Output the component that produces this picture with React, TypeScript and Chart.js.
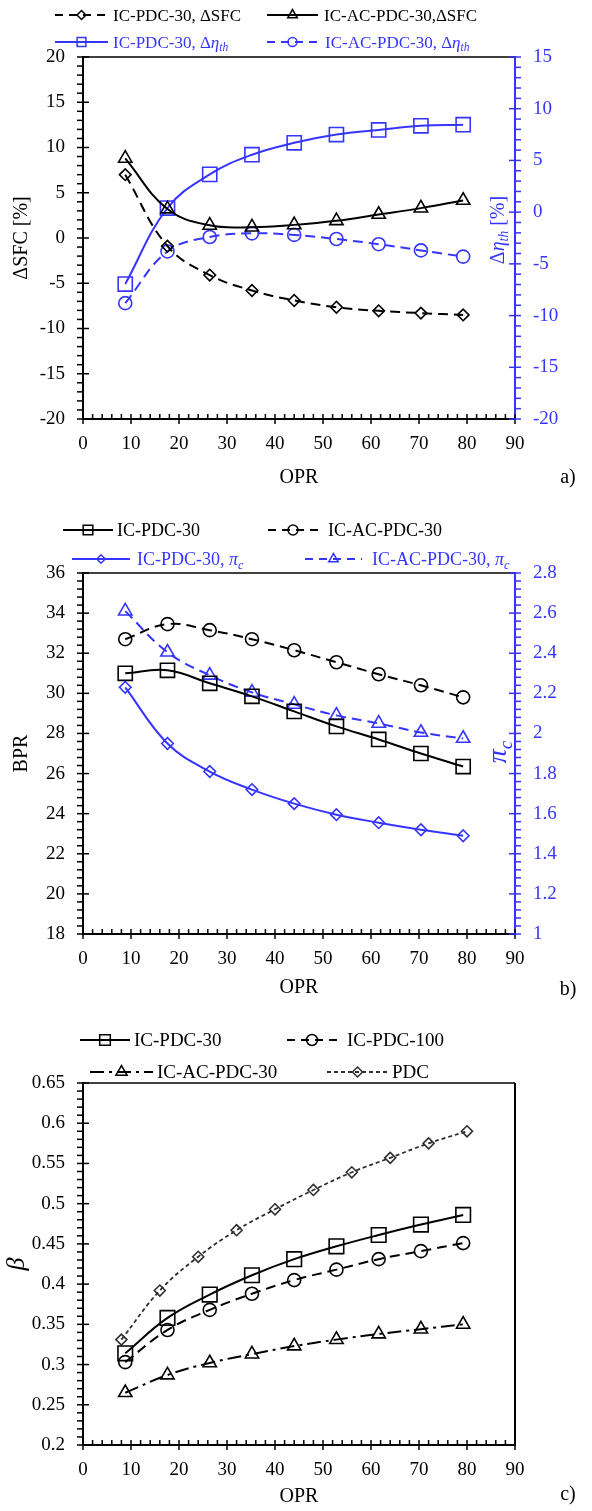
import React, { useEffect, useRef } from 'react';
import { Chart, registerables } from 'chart.js';

Chart.register(...registerables);

const FONT = '"Liberation Serif", "Times New Roman", Times, serif';
const BLUE = '#3535ff';
const BLACK = '#000000';
const GRAY = '#2e2e2e';

// ---------- shared ----------
const OPR = [8.8, 17.6, 26.4, 35.2, 44.0, 52.8, 61.6, 70.4, 79.2];
const OPR_PDC = [8, 16, 24, 32, 40, 48, 56, 64, 72, 80];
const X_TICKS = [0, 10, 20, 30, 40, 50, 60, 70, 80, 90];

// ---------- panel a ----------
const A_DSFC_IC_PDC_30 = [7.0, -0.9, -4.1, -5.8, -6.9, -7.65, -8.05, -8.3, -8.5];
const A_DSFC_IC_AC_PDC_30 = [8.8, 3.2, 1.4, 1.2, 1.45, 1.9, 2.6, 3.3, 4.15];
const A_DETA_IC_PDC_30 = [-6.95, 0.4, 3.65, 5.55, 6.7, 7.5, 7.95, 8.35, 8.45];
const A_DETA_IC_AC_PDC_30 = [-8.8, -3.8, -2.4, -2.05, -2.2, -2.6, -3.1, -3.7, -4.3];
const A_LEFT_TICKS = [-20, -15, -10, -5, 0, 5, 10, 15, 20];
const A_RIGHT_TICKS = [-20, -15, -10, -5, 0, 5, 10, 15];

// ---------- panel b ----------
const B_BPR_IC_PDC_30 = [31.0, 31.15, 30.5, 29.85, 29.1, 28.35, 27.7, 27.0, 26.35];
const B_BPR_IC_AC_PDC_30 = [32.7, 33.45, 33.15, 32.7, 32.15, 31.55, 30.95, 30.4, 29.8];
const B_PI_IC_PDC_30 = [2.23, 1.95, 1.81, 1.72, 1.65, 1.595, 1.555, 1.52, 1.49];
const B_PI_IC_AC_PDC_30 = [2.61, 2.405, 2.29, 2.205, 2.145, 2.09, 2.05, 2.005, 1.975];
const B_LEFT_TICKS = [18, 20, 22, 24, 26, 28, 30, 32, 34, 36];
const B_RIGHT_TICKS = [1, 1.2, 1.4, 1.6, 1.8, 2, 2.2, 2.4, 2.6, 2.8];

// ---------- panel c ----------
const C_BETA_IC_PDC_30 = [0.314, 0.358, 0.387, 0.411, 0.431, 0.447, 0.461, 0.474, 0.486];
const C_BETA_IC_PDC_100 = [0.303, 0.343, 0.368, 0.388, 0.405, 0.418, 0.431, 0.441, 0.451];
const C_BETA_IC_AC_PDC_30 = [0.265, 0.287, 0.302, 0.313, 0.323, 0.331, 0.338, 0.344, 0.35];
const C_BETA_PDC = [0.331, 0.392, 0.434, 0.467, 0.493, 0.517, 0.539, 0.557, 0.575, 0.59];
const C_LEFT_TICKS = [0.2, 0.25, 0.3, 0.35, 0.4, 0.45, 0.5, 0.55, 0.6, 0.65];

// ---------- helpers ----------
type Seg = { t: string; it?: boolean; sub?: boolean };
type LegendItem = {
  x0: number; x1: number; tx: number; y: number; color: string; textColor?: string; dash: number[];
  lw: number; style: string; r: number; segs: Seg[]; size: number;
};
type TextItem = { x: number; y: number; segs: Seg[]; size: number; color: string; align: 'left' | 'center'; rot?: number };
type TickDef = { id: string; pos: 'bottom' | 'left' | 'right'; min: number; max: number; minor: number; per: number; color: string };
type Decor = { legend: LegendItem[]; texts: TextItem[]; ticks: TickDef[]; rightBorder?: boolean };

const fmt = (v: any) => String(parseFloat(Number(v).toFixed(3)));

function drawRich(ctx: CanvasRenderingContext2D, segs: Seg[], x: number, y: number, size: number, color: string, align: 'left' | 'center', rot = 0) {
  ctx.save();
  ctx.translate(x, y);
  if (rot) ctx.rotate(rot);
  ctx.fillStyle = color;
  ctx.textBaseline = 'alphabetic';
  ctx.textAlign = 'left';
  const fontFor = (s: Seg) => `${s.it ? 'italic ' : ''}${(s.sub ? 0.68 : 1) * size}px ${FONT}`;
  let w = 0;
  for (const s of segs) { ctx.font = fontFor(s); w += ctx.measureText(s.t).width; }
  let cx = align === 'center' ? -w / 2 : 0;
  const base = size * 0.33;
  for (const s of segs) {
    ctx.font = fontFor(s);
    ctx.fillText(s.t, cx, base + (s.sub ? size * 0.22 : 0));
    cx += ctx.measureText(s.t).width;
  }
  ctx.restore();
}

function drawMarker(ctx: CanvasRenderingContext2D, style: string, x: number, y: number, r: number, color: string, lw: number) {
  ctx.save();
  ctx.setLineDash([]);
  ctx.strokeStyle = color;
  ctx.lineWidth = lw;
  ctx.beginPath();
  if (style === 'rect') {
    const s = r * Math.SQRT1_2;
    ctx.rect(x - s, y - s, 2 * s, 2 * s);
  } else if (style === 'circle') {
    ctx.arc(x, y, r, 0, Math.PI * 2);
  } else if (style === 'triangle') {
    const a = (2 * Math.PI) / 3;
    ctx.moveTo(x, y - r);
    ctx.lineTo(x + Math.sin(a) * r, y - Math.cos(a) * r);
    ctx.lineTo(x + Math.sin(2 * a) * r, y - Math.cos(2 * a) * r);
    ctx.closePath();
  } else {
    ctx.moveTo(x - r, y);
    ctx.lineTo(x, y - r);
    ctx.lineTo(x + r, y);
    ctx.lineTo(x, y + r);
    ctx.closePath();
  }
  ctx.stroke();
  ctx.restore();
}

function makeDecor(d: Decor) {
  return {
    id: 'decor',
    afterDraw(chart: any) {
      const ctx = chart.ctx as CanvasRenderingContext2D;
      const ca = chart.chartArea;
      ctx.save();
      ctx.setLineDash([]);
      ctx.lineCap = 'butt';
      ctx.strokeStyle = BLACK;
      ctx.lineWidth = 1.5;
      ctx.beginPath();
      ctx.moveTo(ca.left, ca.top);
      ctx.lineTo(ca.right, ca.top);
      ctx.stroke();
      if (d.rightBorder) {
        ctx.lineWidth = 2;
        ctx.beginPath();
        ctx.moveTo(ca.right, ca.top);
        ctx.lineTo(ca.right, ca.bottom);
        ctx.stroke();
      }
      for (const t of d.ticks) {
        const sc = chart.scales[t.id];
        ctx.strokeStyle = t.color;
        ctx.lineWidth = 1.5;
        const n = Math.round((t.max - t.min) / t.minor);
        for (let i = 0; i <= n; i++) {
          const v = t.min + i * t.minor;
          const major = i % t.per === 0;
          const p = sc.getPixelForValue(v);
          ctx.beginPath();
          if (t.pos === 'bottom') {
            const b = ca.bottom;
            ctx.moveTo(p, b - 5);
            ctx.lineTo(p, major ? b + 5 : b);
          } else if (t.pos === 'left') {
            const l = ca.left;
            ctx.moveTo(l - 6, p);
            ctx.lineTo(major ? l + 6 : l, p);
          } else {
            const r = ca.right;
            ctx.moveTo(major ? r - 6 : r, p);
            ctx.lineTo(r + 6, p);
          }
          ctx.stroke();
        }
      }
      for (const it of d.legend) {
        ctx.strokeStyle = it.color;
        ctx.lineWidth = it.lw;
        ctx.setLineDash(it.dash);
        ctx.beginPath();
        ctx.moveTo(it.x0, it.y);
        ctx.lineTo(it.x1, it.y);
        ctx.stroke();
        ctx.setLineDash([]);
        drawMarker(ctx, it.style, (it.x0 + it.x1) / 2, it.y, it.r, it.color, 1.5);
        drawRich(ctx, it.segs, it.tx, it.y, it.size, it.textColor ?? it.color, 'left');
      }
      for (const t of d.texts) drawRich(ctx, t.segs, t.x, t.y, t.size, t.color, t.align, t.rot ?? 0);
      ctx.restore();
    },
  };
}

function pts(xs: number[], ys: number[]) {
  return xs.map((x, i) => ({ x, y: ys[i] }));
}

function ds(label: string, xs: number[], ys: number[], o: { axis: string; color: string; dash?: number[]; lw?: number; style: string; r: number }) {
  return {
    label,
    data: pts(xs, ys),
    yAxisID: o.axis,
    borderColor: o.color,
    borderWidth: o.lw ?? 2,
    borderDash: o.dash ?? [],
    tension: 0.4,
    fill: false,
    pointStyle: o.style,
    pointRadius: o.r,
    pointHoverRadius: o.r,
    pointBorderColor: o.color,
    pointBackgroundColor: 'rgba(0,0,0,0)',
    pointBorderWidth: 1.6,
  };
}

function xScale(h: number, titlePad: number) {
  return {
    type: 'linear',
    position: 'bottom',
    min: 0,
    max: 90,
    afterBuildTicks: (s: any) => { s.ticks = X_TICKS.map((value) => ({ value })); },
    afterFit: (s: any) => { s.height = h; },
    grid: { display: false, drawTicks: false },
    border: { display: true, color: BLACK, width: 2 },
    ticks: { color: BLACK, font: { family: FONT, size: 19 }, padding: 14, maxRotation: 0, autoSkip: false, callback: fmt },
    title: { display: true, text: 'OPR', color: BLACK, font: { family: FONT, size: 20 }, padding: { top: 0, bottom: titlePad } },
  };
}

function yScale(pos: 'left' | 'right', min: number, max: number, ticks: number[], color: string, width: number, title?: any) {
  return {
    type: 'linear',
    position: pos,
    min,
    max,
    afterBuildTicks: (s: any) => { s.ticks = ticks.map((value) => ({ value })); },
    afterFit: (s: any) => { s.width = width; },
    grid: { display: false, drawTicks: false },
    border: { display: true, color, width: 2 },
    ticks: { color, font: { family: FONT, size: 19 }, padding: 18, autoSkip: false, callback: fmt },
    title: title ?? { display: false },
  };
}

const BASE_OPTS = {
  responsive: false,
  animation: false,
  events: [],
  plugins: { legend: { display: false }, tooltip: { enabled: false } },
};

// ---------- chart configs ----------
function configA() {
  return {
    type: 'line',
    data: {
      datasets: [
        ds('IC-PDC-30, ΔSFC', OPR, A_DSFC_IC_PDC_30, { axis: 'y', color: BLACK, dash: [10, 6], style: 'rectRot', r: 5.8 }),
        ds('IC-AC-PDC-30, ΔSFC', OPR, A_DSFC_IC_AC_PDC_30, { axis: 'y', color: BLACK, style: 'triangle', r: 7.7 }),
        ds('IC-PDC-30, Δη_th', OPR, A_DETA_IC_PDC_30, { axis: 'y1', color: BLUE, style: 'rect', r: 10 }),
        ds('IC-AC-PDC-30, Δη_th', OPR, A_DETA_IC_AC_PDC_30, { axis: 'y1', color: BLUE, dash: [10, 6], style: 'circle', r: 6.5 }),
      ],
    },
    options: {
      ...BASE_OPTS,
      layout: { padding: { top: 57, left: 0, right: 0, bottom: 0 } },
      scales: {
        x: xScale(96, 25),
        y: yScale('left', -20, 20, A_LEFT_TICKS, BLACK, 83, {
          display: true, text: 'ΔSFC [%]', color: BLACK, font: { family: FONT, size: 20 }, padding: { top: 10, bottom: 0 },
        }),
        y1: yScale('right', -20, 15, A_RIGHT_TICKS, BLUE, 77),
      },
    },
    plugins: [
      makeDecor({
        ticks: [
          { id: 'x', pos: 'bottom', min: 0, max: 90, minor: 2, per: 5, color: BLACK },
          { id: 'y', pos: 'left', min: -20, max: 20, minor: 1, per: 5, color: BLACK },
          { id: 'y1', pos: 'right', min: -20, max: 15, minor: 1, per: 5, color: BLUE },
        ],
        legend: [
          { x0: 55, x1: 108, tx: 113, y: 15, color: BLACK, dash: [8, 6], lw: 2, style: 'rectRot', r: 4.5, size: 17, segs: [{ t: 'IC-PDC-30, ΔSFC' }] },
          { x0: 267, x1: 318, tx: 324, y: 15, color: BLACK, dash: [], lw: 2, style: 'triangle', r: 5.5, size: 17, segs: [{ t: 'IC-AC-PDC-30,ΔSFC' }] },
          { x0: 55, x1: 108, tx: 113, y: 42, color: BLUE, dash: [], lw: 2, style: 'rect', r: 6.2, size: 17, segs: [{ t: 'IC-PDC-30, Δ' }, { t: 'η', it: true }, { t: 'th', it: true, sub: true }] },
          { x0: 267, x1: 318, tx: 325, y: 42, color: BLUE, dash: [8, 6], lw: 2, style: 'circle', r: 4.5, size: 17, segs: [{ t: 'IC-AC-PDC-30, Δ' }, { t: 'η', it: true }, { t: 'th', it: true, sub: true }] },
        ],
        texts: [
          { x: 568, y: 476, segs: [{ t: 'a)' }], size: 20, color: BLACK, align: 'center' },
          { x: 497, y: 230, segs: [{ t: 'Δ' }, { t: 'η', it: true }, { t: 'th', it: true, sub: true }, { t: ' [%]' }], size: 20, color: BLUE, align: 'center', rot: -Math.PI / 2 },
        ],
      }),
    ],
  };
}

function configB() {
  return {
    type: 'line',
    data: {
      datasets: [
        ds('IC-PDC-30', OPR, B_BPR_IC_PDC_30, { axis: 'y', color: BLACK, style: 'rect', r: 10 }),
        ds('IC-AC-PDC-30', OPR, B_BPR_IC_AC_PDC_30, { axis: 'y', color: BLACK, dash: [10, 6], style: 'circle', r: 6.5 }),
        ds('IC-PDC-30, π_c', OPR, B_PI_IC_PDC_30, { axis: 'y1', color: BLUE, style: 'rectRot', r: 5.8 }),
        ds('IC-AC-PDC-30, π_c', OPR, B_PI_IC_AC_PDC_30, { axis: 'y1', color: BLUE, dash: [10, 6], style: 'triangle', r: 7.7 }),
      ],
    },
    options: {
      ...BASE_OPTS,
      layout: { padding: { top: 58, left: 0, right: 0, bottom: 0 } },
      scales: {
        x: xScale(91, 25),
        y: yScale('left', 18, 36, B_LEFT_TICKS, BLACK, 83, {
          display: true, text: 'BPR', color: BLACK, font: { family: FONT, size: 20 }, padding: { top: 10, bottom: 0 },
        }),
        y1: yScale('right', 1, 2.8, B_RIGHT_TICKS, BLUE, 77),
      },
    },
    plugins: [
      makeDecor({
        ticks: [
          { id: 'x', pos: 'bottom', min: 0, max: 90, minor: 2, per: 5, color: BLACK },
          { id: 'y', pos: 'left', min: 18, max: 36, minor: 0.4, per: 5, color: BLACK },
          { id: 'y1', pos: 'right', min: 1, max: 2.8, minor: 0.04, per: 5, color: BLUE },
        ],
        legend: [
          { x0: 63, x1: 113, tx: 117, y: 15, color: BLACK, dash: [], lw: 2, style: 'rect', r: 6.8, size: 18, segs: [{ t: 'IC-PDC-30' }] },
          { x0: 268, x1: 318, tx: 328, y: 15, color: BLACK, dash: [8, 6], lw: 2, style: 'circle', r: 5, size: 18, segs: [{ t: 'IC-AC-PDC-30' }] },
          { x0: 72, x1: 130, tx: 137, y: 44, color: BLUE, dash: [], lw: 2, style: 'rectRot', r: 4.2, size: 18, segs: [{ t: 'IC-PDC-30, ' }, { t: 'π', it: true }, { t: 'c', it: true, sub: true }] },
          { x0: 305, x1: 362, tx: 372, y: 44, color: BLUE, dash: [8, 6], lw: 2, style: 'triangle', r: 5.5, size: 18, segs: [{ t: 'IC-AC-PDC-30, ' }, { t: 'π', it: true }, { t: 'c', it: true, sub: true }] },
        ],
        texts: [
          { x: 568, y: 473, segs: [{ t: 'b)' }], size: 20, color: BLACK, align: 'center' },
          { x: 497, y: 237, segs: [{ t: 'π', it: true }, { t: 'c', it: true, sub: true }], size: 28, color: BLUE, align: 'center', rot: -Math.PI / 2 },
        ],
      }),
    ],
  };
}

function configC() {
  return {
    type: 'line',
    data: {
      datasets: [
        ds('IC-PDC-30', OPR, C_BETA_IC_PDC_30, { axis: 'y', color: BLACK, style: 'rect', r: 10.3 }),
        ds('IC-PDC-100', OPR, C_BETA_IC_PDC_100, { axis: 'y', color: BLACK, dash: [10, 6], style: 'circle', r: 6.5 }),
        ds('IC-AC-PDC-30', OPR, C_BETA_IC_AC_PDC_30, { axis: 'y', color: BLACK, dash: [14, 5, 3, 5], style: 'triangle', r: 7.7 }),
        ds('PDC', OPR_PDC, C_BETA_PDC, { axis: 'y', color: GRAY, dash: [4, 3], lw: 1.8, style: 'rectRot', r: 5.5 }),
      ],
    },
    options: {
      ...BASE_OPTS,
      layout: { padding: { top: 58, left: 0, right: 77, bottom: 0 } },
      scales: {
        x: xScale(66, 2),
        y: yScale('left', 0.2, 0.65, C_LEFT_TICKS, BLACK, 83, {
          display: true, text: 'β', color: BLACK, font: { family: FONT, size: 26, style: 'italic' }, padding: { top: 2, bottom: 0 },
        }),
      },
    },
    plugins: [
      makeDecor({
        rightBorder: true,
        ticks: [
          { id: 'x', pos: 'bottom', min: 0, max: 90, minor: 2, per: 5, color: BLACK },
          { id: 'y', pos: 'left', min: 0.2, max: 0.65, minor: 0.01, per: 5, color: BLACK },
        ],
        legend: [
          { x0: 80, x1: 130, tx: 134, y: 15, color: BLACK, dash: [], lw: 2, style: 'rect', r: 7.5, size: 19, segs: [{ t: 'IC-PDC-30' }] },
          { x0: 287, x1: 337, tx: 347, y: 15, color: BLACK, dash: [8, 6], lw: 2, style: 'circle', r: 5.5, size: 19, segs: [{ t: 'IC-PDC-100' }] },
          { x0: 90, x1: 153, tx: 157, y: 47, color: BLACK, dash: [14, 5, 3, 5], lw: 2, style: 'triangle', r: 6.5, size: 19, segs: [{ t: 'IC-AC-PDC-30' }] },
          { x0: 327, x1: 388, tx: 392, y: 47, color: GRAY, textColor: BLACK, dash: [4, 3], lw: 1.8, style: 'rectRot', r: 5, size: 19, segs: [{ t: 'PDC' }] },
        ],
        texts: [
          { x: 568, y: 468, segs: [{ t: 'c)' }], size: 20, color: BLACK, align: 'center' },
        ],
      }),
    ],
  };
}

function Panel({ make, height }: { make: () => any; height: number }) {
  const ref = useRef<HTMLCanvasElement | null>(null);
  useEffect(() => {
    if (!ref.current) return;
    const chart = new Chart(ref.current, make());
    return () => chart.destroy();
  }, [make]);
  return <canvas ref={ref} width={592} height={height} style={{ display: 'block', width: 592, height }} />;
}

export default function App() {
  Chart.defaults.font.family = FONT;
  return (
    <div style={{ position: 'absolute', left: 0, top: 0, width: 592, background: '#fff' }}>
      <Panel make={configA} height={515} />
      <Panel make={configB} height={510} />
      <Panel make={configC} height={486} />
    </div>
  );
}
